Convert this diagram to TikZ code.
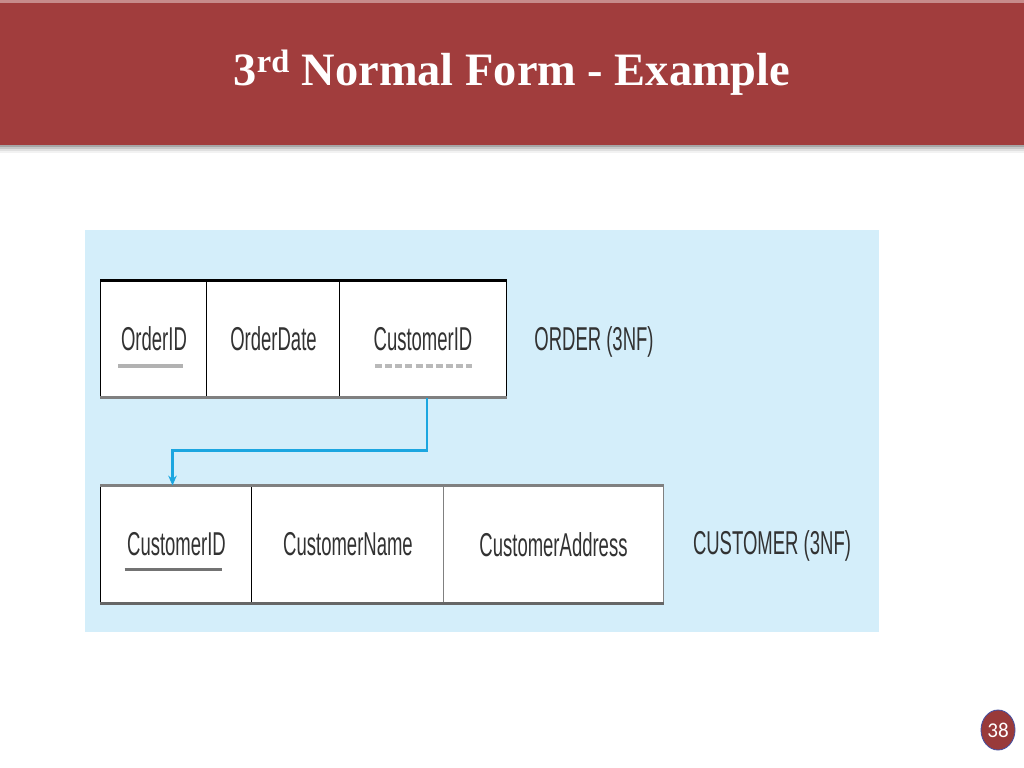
\documentclass[tikz,border=0pt]{standalone}
\usepackage{fontspec}
\setmainfont{Liberation Serif}
\newfontfamily\tabfont{Liberation Sans}[FakeStretch=0.56]
\newfontfamily\numfont{Carlito}
\usepackage{tikz}
\usetikzlibrary{calc,shapes.geometric,arrows.meta}

\definecolor{headred}{RGB}{161,61,61}
\definecolor{panelblue}{RGB}{212,238,250}
\definecolor{linkblue}{RGB}{27,166,224}
\definecolor{labelgray}{RGB}{50,50,50}

\begin{document}
\begin{tikzpicture}[x=0.025cm, y=-0.025cm,
    cell/.style={draw=black, line width=0.7pt, fill=white, inner sep=0pt,
      font=\tabfont\fontsize{23.5}{26}\selectfont, text=labelgray},
    tablabel/.style={font=\tabfont\fontsize{23.5}{26}\selectfont, text=labelgray},
    pkline/.style={line width=2.8pt, gray!60},
    fkline/.style={line width=2.8pt, gray!55, dash pattern=on 5pt off 2.2pt}]
    \useasboundingbox (0,0) rectangle (1024,768);

    % header band with shadow
    \foreach \i/\c in {0/35,2/22,4/12,6/5}
      \fill[black!\c] (0,145+\i) rectangle (1024,147+\i);
    \fill[headred] (0,0) rectangle (1024,145);
    \fill[headred!60!white] (0,0) rectangle (1024,3);
    \node[text=white, font=\bfseries\fontsize{33}{38}\selectfont] (title) at (512,73)
      {3\textsuperscript{rd} Normal Form - Example};

    % light blue panel
    \fill[panelblue] (85,230) rectangle (879,632);

    % ORDER table
    \node[cell, minimum width=2.65cm, minimum height=2.9cm] (oid) at (154,339) {OrderID};
    \node[cell, minimum width=3.325cm, minimum height=2.9cm] (odate) at (273.5,339) {OrderDate};
    \node[cell, minimum width=4.15cm, minimum height=2.9cm] (ocust) at (423,339) {CustomerID};
    \draw[line width=2.2pt, black] (oid.north west) -- (ocust.north east);
    \draw[line width=1.6pt, gray] (oid.south west) -- (ocust.south east);
    \node[tablabel] (olabel) at (594,342) {ORDER (3NF)};

    % keys of ORDER
    \draw[pkline] ($(oid.center)+(-36,27)$) -- ++(65,0);
    \draw[fkline] ($(ocust.center)+(-48,27)$) -- ++(97,0);

    % CUSTOMER table
    \node[cell, minimum width=3.775cm, minimum height=2.925cm] (ccid) at (176.5,544.5) {CustomerID};
    \node[cell, minimum width=4.8cm, minimum height=2.925cm] (cname) at (348,544.5) {CustomerName};
    \node[cell, draw=gray, minimum width=5.475cm, minimum height=2.925cm] (caddr) at (553.5,544.5) {CustomerAddress};
    \draw[line width=2.6pt, gray] (ccid.north west) -- (caddr.north east);
    \draw[line width=2.6pt, black!60] (ccid.south west) -- (caddr.south east);
    \node[tablabel] (clabel) at (772,546) {CUSTOMER (3NF)};

    % key of CUSTOMER
    \draw[line width=2.4pt, black!55] ($(ccid.center)+(-52,25)$) -- ++(97,0);

    % foreign key link
    \draw[linkblue, line width=1.6pt, -{Stealth[length=7pt,width=6pt]}]
      ([xshift=0.1cm]ocust.south) -- ++(0,53) -| ([xshift=-0.1cm]ccid.north);

    % page number
    \node[ellipse, fill=headred!95!black, draw={rgb,255:red,70;green,80;blue,160},
      line width=0.6pt, minimum width=0.85cm, minimum height=1cm, inner sep=0pt,
      text=white, font=\numfont\fontsize{15}{17}\selectfont] (pgnum) at (998,730) {38};
\end{tikzpicture}
\end{document}
